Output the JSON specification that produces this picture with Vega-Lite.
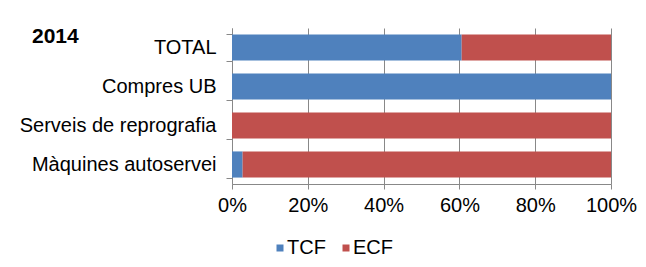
{
  "$schema": "https://vega.github.io/schema/vega-lite/v6.json",
  "autosize": {"type": "none"},
  "width": 379,
  "height": 156,
  "padding": {"left": 232, "top": 28, "right": 35, "bottom": 83},
  "background": "white",
  "title": {
    "text": "2014",
    "anchor": "start",
    "frame": "group",
    "font": "Liberation Sans",
    "fontSize": 21,
    "fontWeight": "bold",
    "color": "#000000",
    "baseline": "alphabetic",
    "offset": 0,
    "dx": -200,
    "dy": 46
  },
  "data": {
    "values": [
      {"categoria": "TOTAL", "tipus": "TCF", "ordre": 1, "percent": 0.606},
      {"categoria": "TOTAL", "tipus": "ECF", "ordre": 2, "percent": 0.394},
      {"categoria": "Compres UB", "tipus": "TCF", "ordre": 1, "percent": 1.0},
      {"categoria": "Compres UB", "tipus": "ECF", "ordre": 2, "percent": 0.0},
      {"categoria": "Serveis de reprografia", "tipus": "TCF", "ordre": 1, "percent": 0.0},
      {"categoria": "Serveis de reprografia", "tipus": "ECF", "ordre": 2, "percent": 1.0},
      {"categoria": "Màquines autoservei", "tipus": "TCF", "ordre": 1, "percent": 0.028},
      {"categoria": "Màquines autoservei", "tipus": "ECF", "ordre": 2, "percent": 0.972}
    ]
  },
  "mark": {"type": "bar"},
  "encoding": {
    "y": {
      "field": "categoria",
      "type": "nominal",
      "sort": ["TOTAL", "Compres UB", "Serveis de reprografia", "Màquines autoservei"],
      "scale": {"paddingInner": 0.33, "paddingOuter": 0.165},
      "axis": {
        "title": null,
        "domainColor": "#888888",
        "tickColor": "#888888",
        "tickBand": "extent",
        "tickSize": 6,
        "labelFont": "Liberation Sans",
        "labelFontSize": 20,
        "labelColor": "#000000",
        "labelPadding": 10,
        "labelLimit": 400,
        "grid": false
      }
    },
    "x": {
      "field": "percent",
      "type": "quantitative",
      "stack": "zero",
      "scale": {"domain": [0, 1], "nice": false},
      "axis": {
        "title": null,
        "format": ".0%",
        "values": [0, 0.2, 0.4, 0.6, 0.8, 1],
        "domainColor": "#888888",
        "tickColor": "#888888",
        "tickSize": 5,
        "gridColor": "#888888",
        "gridWidth": 1,
        "labelFont": "Liberation Sans",
        "labelFontSize": 20,
        "labelColor": "#000000",
        "labelPadding": 6,
        "labelFlush": false,
        "labelOverlap": false
      }
    },
    "color": {
      "field": "tipus",
      "type": "nominal",
      "scale": {"domain": ["TCF", "ECF"], "range": ["#4F81BD", "#C0504D"]},
      "legend": {
        "title": null,
        "orient": "none",
        "direction": "horizontal",
        "legendX": 38,
        "legendY": 210,
        "symbolType": "square",
        "symbolSize": 49,
        "symbolStrokeWidth": 0,
        "labelFont": "Liberation Sans",
        "labelFontSize": 20,
        "labelColor": "#000000",
        "labelOffset": -3,
        "columnPadding": 10,
        "padding": 0
      }
    },
    "order": {"field": "ordre", "type": "quantitative"}
  },
  "config": {"view": {"stroke": null}}
}
